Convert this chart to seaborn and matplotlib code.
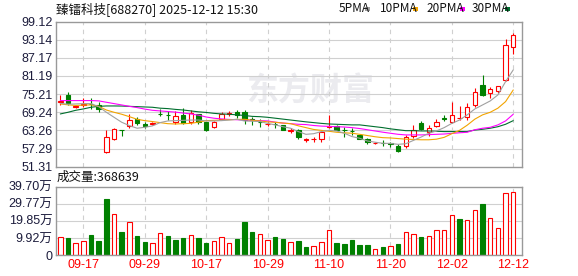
import numpy as np
import pandas as pd
import matplotlib
matplotlib.use("Agg")
import matplotlib.pyplot as plt
from matplotlib.patches import Rectangle
import seaborn as sns

# ---------------- data ----------------
dates = ["09-12", "09-15", "09-16", "09-17", "09-18", "09-19", "09-22", "09-23", "09-24", "09-25",
         "09-26", "09-29", "09-30", "10-09", "10-10", "10-13", "10-14", "10-15", "10-16", "10-17",
         "10-20", "10-21", "10-22", "10-23", "10-24", "10-27", "10-28", "10-29", "10-30", "10-31",
         "11-03", "11-04", "11-05", "11-06", "11-07", "11-10", "11-11", "11-12", "11-13", "11-14",
         "11-17", "11-18", "11-19", "11-20", "11-21", "11-24", "11-25", "11-26", "11-27", "11-28",
         "12-01", "12-02", "12-03", "12-04", "12-05", "12-08", "12-09", "12-10", "12-11", "12-12"]

opens = [72.6, 74.9, 71.1, 71.66, 72.0, 71.6, 56.3, 60.4, 63.45, 64.75,
         66.95, 65.4, 65.5, 68.75, 68.45, 66.0, 68.3, 66.2, 68.6, 66.0,
         64.3, 67.2, 68.6, 69.3, 69.3, 66.9, 66.0, 65.45, 65.5, 64.9,
         63.15, 63.4, 60.2, 60.3, 60.6, 64.4, 64.7, 63.55, 63.15, 61.8,
         60.5, 59.2, 59.1, 59.0, 58.3, 58.2, 61.35, 65.7, 62.7, 64.65,
         67.25, 66.07, 67.35, 67.6, 71.8, 78.1, 75.6, 76.16, 80.0, 90.6]
highs = [74.9, 76.0, 71.7, 73.85, 73.8, 72.5, 63.4, 64.2, 63.5, 68.8,
         67.6, 66.0, 66.2, 70.3, 69.7, 69.7, 70.7, 70.0, 68.8, 66.2,
         66.4, 69.2, 69.7, 70.0, 70.0, 67.6, 67.05, 66.2, 66.2, 65.0,
         64.0, 63.6, 60.9, 61.0, 63.1, 68.3, 65.0, 64.55, 63.98, 62.0,
         60.8, 59.6, 60.1, 59.6, 58.7, 61.8, 65.2, 66.5, 64.97, 67.2,
         68.3, 72.6, 71.2, 72.3, 77.25, 81.4, 77.5, 78.0, 93.5, 95.35]
lows = [71.6, 71.8, 70.6, 71.1, 70.35, 69.5, 56.0, 60.1, 61.6, 64.0,
        65.1, 64.1, 65.1, 68.1, 66.7, 65.3, 65.4, 65.3, 65.4, 63.1,
        64.1, 66.9, 68.1, 67.5, 65.3, 65.1, 64.5, 64.6, 64.0, 63.3,
        62.3, 60.5, 59.6, 59.6, 59.6, 64.2, 63.3, 61.25, 61.8, 60.3,
        58.7, 58.9, 58.3, 57.95, 56.1, 57.4, 60.8, 63.55, 61.35, 64.4,
        66.5, 65.7, 66.8, 66.8, 70.9, 74.5, 73.96, 75.6, 79.45, 88.4]
closes = [72.9, 72.2, 71.4, 72.0, 71.9, 70.3, 61.0, 63.9, 63.35, 66.7,
          65.6, 64.8, 65.6, 68.7, 68.35, 68.0, 65.6, 69.0, 65.9, 63.3,
          66.1, 68.6, 68.9, 68.2, 66.7, 66.8, 65.9, 65.55, 65.4, 63.5,
          63.3, 61.25, 60.35, 60.45, 62.6, 64.7, 63.5, 63.45, 63.05, 60.5,
          59.4, 59.3, 59.0, 58.9, 56.5, 61.0, 63.55, 63.9, 64.1, 65.95,
          67.15, 68.5, 67.45, 71.0, 75.8, 74.84, 76.9, 77.8, 91.3, 94.6]

ma5 = [72.2, 71.9, 72.0, 72.1, 72.1, 71.1, 69.25, 67.6, 65.96, 64.87,
       64.0, 64.3, 64.76, 65.85, 66.4, 66.5, 66.6, 66.7, 66.7, 66.4,
       66.4, 66.5, 66.7, 66.95, 66.4, 66.3, 66.2, 65.6, 65.1, 64.5,
       64.0, 62.9, 62.0, 62.2, 62.9, 63.3, 63.1, 62.35, 61.25, 60.7,
       59.8, 59.4, 59.05, 59.0, 58.7, 58.9, 60.0, 61.1, 62.35, 63.1,
       64.2, 65.6, 66.7, 68.4, 70.35, 71.66, 72.98, 74.96, 79.34, 83.2]
ma10 = [72.0, 71.7, 71.5, 71.6, 71.7, 71.2, 70.0, 69.25, 68.6, 67.8,
        66.95, 66.5, 66.2, 65.85, 65.5, 65.4, 65.5, 65.6, 66.0, 66.5,
        66.6, 66.7, 66.8, 66.9, 66.95, 66.6, 66.4, 66.1, 65.96, 65.7,
        65.5, 64.8, 64.2, 63.6, 63.3, 63.0, 62.67, 62.5, 62.35, 62.0,
        61.6, 61.2, 60.9, 60.8, 60.6, 60.4, 60.3, 60.2, 60.2, 60.4,
        61.0, 62.2, 63.3, 65.0, 67.0, 68.4, 69.25, 70.6, 72.76, 76.6]
ma20 = [73.1, 73.1, 73.1, 73.1, 73.1, 73.0, 72.55, 72.1, 71.66, 71.2,
        70.8, 70.3, 69.9, 69.7, 69.5, 69.3, 69.0, 68.7, 68.3, 67.7,
        67.3, 67.05, 66.9, 66.8, 66.7, 66.6, 66.5, 66.4, 66.0, 65.7,
        65.5, 65.3, 65.2, 64.9, 64.7, 64.6, 64.5, 64.4, 64.2, 63.9,
        63.5, 63.1, 62.7, 62.35, 62.0, 61.8, 61.8, 61.8, 61.9, 62.0,
        62.1, 62.3, 62.5, 62.67, 63.5, 64.0, 64.3, 65.1, 66.4, 68.6]
ma30 = [68.7, 69.25, 69.9, 70.35, 70.9, 71.2, 71.33, 71.33, 71.3, 71.2,
        71.1, 71.0, 70.9, 70.6, 70.46, 70.2, 70.0, 69.7, 69.4, 69.2,
        68.9, 68.7, 68.6, 68.4, 68.2, 67.9, 67.8, 67.6, 67.3, 67.0,
        66.7, 66.4, 66.1, 65.85, 65.6, 65.4, 65.3, 65.2, 65.1, 65.1,
        64.8, 64.5, 64.2, 63.8, 63.5, 63.2, 63.2, 63.1, 63.1, 63.0,
        62.9, 62.9, 62.9, 62.9, 63.4, 63.65, 64.0, 64.5, 65.3, 66.5]

volumes = [10.3, 9.9, 6.8, 7.9, 11.6, 8.1, 32.5, 23.6, 13.4, 19.0,
           11.0, 7.6, 6.8, 12.6, 11.0, 8.7, 9.9, 11.4, 9.9, 7.0,
           7.9, 10.3, 6.8, 9.3, 19.2, 13.4, 12.0, 8.5, 10.5, 9.3,
           7.4, 8.1, 4.6, 5.0, 7.4, 14.3, 7.0, 6.4, 8.7, 5.8,
           5.8, 3.3, 4.6, 5.0, 6.4, 13.2, 12.0, 10.5, 10.8, 14.3,
           14.3, 23.1, 20.9, 20.1, 26.1, 29.6, 21.3, 15.5, 35.8, 36.86]
vol_up = [1, 0, 1, 1, 0, 0, 0, 1, 0, 1,
          0, 0, 1, 1, 0, 0, 0, 1, 0, 0,
          1, 1, 1, 0, 0, 0, 1, 1, 0, 0,
          1, 0, 0, 1, 1, 1, 0, 0, 0, 0,
          0, 1, 0, 1, 0, 1, 1, 0, 1, 1,
          1, 1, 0, 1, 1, 0, 1, 1, 1, 1]

price_ticks = [51.31, 57.29, 63.26, 69.24, 75.21, 81.19, 87.17, 93.14, 99.12]
vol_ticks = [0, 9.92, 19.85, 29.77, 39.70]
tick_dates = ["09-17", "09-29", "10-17", "10-29", "11-10", "11-20", "12-02", "12-12"]
ma_names = ["5PMA", "10PMA", "20PMA", "30PMA"]
ma_colors = ["#a0a0a0", "#f2a400", "#ff00ff", "#006e2e"]
title = "臻镭科技[688270] 2025-12-12 15:30"
vol_label = "成交量:368639"
watermark = "东方财富"

# ---------------- styling ----------------
sns.set_theme(style="white")
plt.rcParams['font.family'] = ['Liberation Sans', 'Noto Sans CJK SC', 'DejaVu Sans']
CJK = ['Noto Sans CJK SC', 'DejaVu Sans']
RED = "#ff0000"
GREEN = "#008000"
SPINE = "#999999"
GRID = "#d0d0d0"
LABEL = "#1c1c3c"
LW = 0.8

W, H = 578, 276
fig = plt.figure(figsize=(W / 100, H / 100), dpi=100)
fig.patch.set_facecolor("white")

def fx(px):
    return px / W

def fy(py):
    return 1 - py / H

L, R = 56, 522
ax = fig.add_axes([fx(L), fy(166.8), fx(R - L), (166.8 - 21.5) / H])
axv = fig.add_axes([fx(L), fy(255), fx(R - L), (255 - 186.7) / H])

n = len(closes)
x = np.arange(n)
o = np.array(opens); c = np.array(closes); hi = np.array(highs); lo = np.array(lows)
up = c >= o
edge = np.where(up, RED, GREEN)
face = np.where(up, "white", GREEN)

tick_idx = [dates.index(d) for d in tick_dates]

for a in (ax, axv):
    a.set_xlim(-0.56, n + 0.14)
    a.set_xticks(tick_idx)
    a.grid(False)
    for sp in a.spines.values():
        sp.set_color(SPINE)
        sp.set_linewidth(1.0)
    for t in tick_idx:
        a.axvline(t, color=GRID, lw=LW, ls=(0, (4, 4)), zorder=0.5)
    a.tick_params(axis="both", length=0, pad=2.5)

# watermark
ax.text(0.545, 0.52, watermark, transform=ax.transAxes, ha="center", va="center",
        fontsize=23, fontweight="bold", color="#ebebef", family=CJK, zorder=0.4)

# price panel
ax.set_ylim(price_ticks[0], price_ticks[-1])
ax.set_yticks(price_ticks)
ax.set_yticklabels([f"{v:.2f}" for v in price_ticks], fontsize=9, color=LABEL)
for v in price_ticks[1:-1]:
    ax.axhline(v, color=GRID, lw=LW, zorder=0.6)
ax.set_xticklabels([])

ax.vlines(x, lo, hi, colors=edge, lw=LW, zorder=2)
ax.bar(x, np.maximum(np.abs(c - o), 0.05), bottom=np.minimum(o, c), width=0.58,
       color=face, edgecolor=edge, linewidth=LW, zorder=2.5)

ma_df = pd.DataFrame({
    "idx": np.tile(x, 4),
    "value": np.concatenate([ma5, ma10, ma20, ma30]),
    "ma": np.repeat(ma_names, n),
})
sns.lineplot(data=ma_df, x="idx", y="value", hue="ma", palette=dict(zip(ma_names, ma_colors)),
             hue_order=ma_names[::-1], legend=False, linewidth=LW, ax=ax, zorder=3)
ax.set_xlabel(""); ax.set_ylabel("")

# volume panel
vol_up_arr = np.array(vol_up).astype(bool)
vedge = np.where(vol_up_arr, RED, GREEN)
vface = np.where(vol_up_arr, "white", GREEN)
axv.set_ylim(0, vol_ticks[-1])
axv.set_yticks(vol_ticks)
axv.set_yticklabels(["0"] + [f"{v:.2f}万" for v in vol_ticks[1:]], fontsize=9, color=LABEL)
for v in vol_ticks[1:-1]:
    axv.axhline(v, color=GRID, lw=LW, zorder=0.6)
axv.bar(x, volumes, width=0.58, color=vface, edgecolor=vedge, linewidth=LW, zorder=2)
axv.set_xticklabels(tick_dates, fontsize=9, color=RED)
axv.tick_params(axis="x", pad=3)

# header texts
fig.text(fx(56), fy(9), title, fontsize=9, family=CJK, color="#111111", ha="left", va="center")
fig.text(fx(57), fy(177), vol_label, fontsize=9, family=CJK, color="#111111", ha="left", va="center")

leg_x = [339, 380, 426, 472]
sq_x = [365, 413, 460, 505]
for name, col, tx, sx in zip(ma_names, ma_colors, leg_x, sq_x):
    fig.text(fx(tx), fy(9), name, fontsize=8.5, family=CJK, color="#111111", ha="left", va="center")
    fig.patches.append(Rectangle((fx(sx), fy(11)), fx(5), 4 / H, transform=fig.transFigure,
                                 facecolor=col, edgecolor="none"))

fig.savefig("out.png", dpi=100, facecolor="white")
